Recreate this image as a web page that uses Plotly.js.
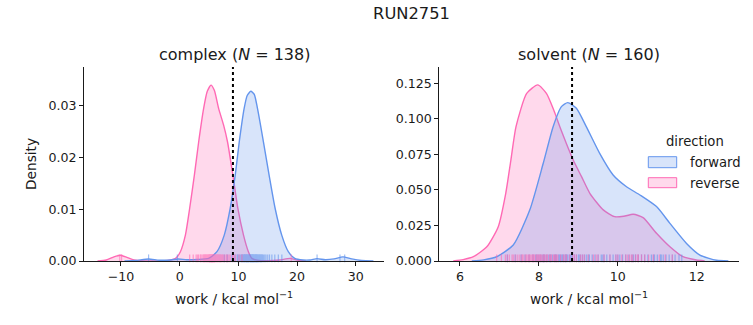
<!DOCTYPE html>
<html>
<head>
<meta charset="utf-8">
<script src="https://cdn.plot.ly/plotly-3.0.1.min.js"></script>
<style>html,body{margin:0;padding:0;background:#fff;}#chart{width:753px;height:325px;}</style>
</head>
<body>
<div id="chart"></div>
<script>
// ---------- DATA ----------
const suptitle = "RUN2751";
const panelTitles = ["complex (<i>N</i> = 138)", "solvent (<i>N</i> = 160)"];
const seriesNames = ["forward", "reverse"];
const legendTitle = "direction";
const xLabel = "work / kcal mol<sup>−1</sup>";
const yLabel = "Density";

// complex KDE curves
const cxForwardX = [-9.4,-7.5,-5.3,-3.5,-1.5,-0.3,1.2,3,4.93,6.35,7.59,8.61,9.46,10.14,10.98,11.5,12.12,12.7,13.25,14.27,15.23,16.25,17.38,18.5,19.6,21,22.2,23.4,24.8,26.3,27.8,29.3,31,33];
const cxForwardY = [0.00001,0.0001,0.0004,0.00015,0.0002,0.0004,0.00025,0.0003,0.0005,0.0018,0.005,0.0102,0.0166,0.0230,0.0295,0.0320,0.0328,0.0322,0.0295,0.0230,0.0166,0.0102,0.005,0.0018,0.0005,0.0002,0.0002,0.00045,0.00025,0.0004,0.0008,0.0004,0.0001,0.00001];
const cxReverseX = [-14,-12.5,-11.2,-10.1,-9,-7.8,-6,-4,-2,-0.7,0.12,0.97,1.7,2.5,3.23,4.08,4.7,5.33,5.9,6.63,7.47,8.15,9.06,9.9,10.87,11.7,12.3,13.5,15,17,18.8,20,21.5];
const cxReverseY = [0.00001,0.0002,0.0008,0.0011,0.0007,0.0002,0.00003,0.00002,0.0001,0.0005,0.0018,0.005,0.0102,0.0166,0.0230,0.0295,0.0328,0.0340,0.0330,0.0295,0.0263,0.0230,0.0166,0.0102,0.005,0.0018,0.0005,0.0001,0.00005,0.0002,0.0005,0.0002,0.00001];

// solvent KDE curves
const svForwardX = [6.3,6.6,6.93,7.35,7.77,8.11,8.36,8.57,8.73,8.95,9.2,9.54,9.88,10.22,10.56,10.98,11.32,11.74,12.08,12.5,12.8];
const svForwardY = [0,0.0008,0.003,0.0113,0.036,0.0688,0.0946,0.1087,0.1115,0.1075,0.0946,0.0758,0.0606,0.0523,0.0465,0.0383,0.0265,0.0124,0.0042,0.0005,0.0001];
const svReverseX = [5.83,6.08,6.34,6.68,6.97,7.16,7.29,7.42,7.69,7.97,8.19,8.38,8.53,8.87,9.08,9.29,9.63,9.92,10.15,10.39,10.64,10.98,11.32,11.65,11.99,12.2];
const svReverseY = [0.0001,0.001,0.003,0.010,0.0242,0.0477,0.0711,0.0946,0.118,0.124,0.118,0.106,0.0946,0.0711,0.0594,0.0477,0.036,0.0312,0.0315,0.0329,0.0305,0.0195,0.010,0.003,0.0007,0.0001];

// rug samples
const cxForwardSamples = [8.1,8.9,9.4,9.8,10.1,10.3,10.5,10.6,10.8,10.9,11.0,11.1,11.2,11.3,11.4,11.5,11.6,11.7,11.8,11.9,12.0,12.05,12.1,12.2,12.3,12.35,12.4,12.5,12.6,12.7,12.8,12.9,13.0,13.1,13.2,13.3,13.4,13.5,13.6,13.8,13.9,14.1,14.3,14.5,14.7,15.0,15.3,15.7,16.2,16.8,17.4,11.35,12.15,12.65,13.15,10.7,9.9,14.0,12.45,11.65,7.6,13.7,12.95,11.05,-5.3,-0.4,23.4,27.3,28.1];
const cxReverseSamples = [1.7,2.3,2.8,3.2,3.5,3.8,4.0,4.2,4.4,4.6,4.8,5.0,5.1,5.2,5.3,5.4,5.5,5.6,5.7,5.8,5.9,6.0,6.1,6.3,6.5,6.7,6.9,7.1,7.3,7.6,7.9,8.2,8.6,9.0,9.5,10.1,10.6,4.1,4.5,4.9,5.05,5.15,5.25,5.35,5.45,5.55,5.65,5.75,5.85,6.2,6.4,6.6,3.0,3.6,4.3,4.7,6.8,7.0,7.4,8.0,8.4,9.2,5.95,5.52,-10.2,-9.9,19.0];
const svForwardSamples = [7.2,7.4,7.55,7.65,7.75,7.85,7.95,8.0,8.05,8.1,8.15,8.2,8.25,8.3,8.35,8.4,8.45,8.5,8.55,8.6,8.63,8.67,8.7,8.73,8.77,8.8,8.85,8.9,8.95,9.0,9.05,9.1,9.15,9.2,9.28,9.35,9.42,9.5,9.58,9.65,9.72,9.8,9.88,9.95,10.05,10.12,10.2,10.28,10.36,10.45,10.52,10.6,10.68,10.76,10.85,10.93,11.0,11.08,11.15,11.22,11.3,11.38,11.45,11.55,11.62,8.52,8.68,8.82,8.42,9.25,9.62,10.4,10.9,8.28,8.12,7.92,9.02,8.58,11.1,10.0];
const svReverseSamples = [6.93,7.05,7.15,7.25,7.32,7.4,7.45,7.5,7.55,7.6,7.65,7.7,7.74,7.78,7.82,7.86,7.9,7.94,7.98,8.02,8.06,8.1,8.14,8.18,8.22,8.27,8.32,8.37,8.42,8.48,8.55,8.62,8.7,8.78,8.86,8.95,9.05,9.15,9.25,9.38,9.5,9.65,9.8,9.95,10.1,10.2,10.3,10.38,10.45,10.52,10.6,10.68,10.78,10.9,11.05,11.2,11.38,7.88,7.96,8.0,8.04,7.84,7.76,8.12,8.2,7.68,7.58,8.3,8.45,8.66,8.9,9.1,9.45,10.35,10.5,10.25,7.35,7.2,10.0,8.4];

// dotted reference lines (per panel)
const refLines = [9.07, 8.84];

// ticks
const cxXTicks = [-10, 0, 10, 20, 30];
const cxXTickText = ["−10", "0", "10", "20", "30"];
const cxYTicks = [0, 0.01, 0.02, 0.03];
const cxYTickText = ["0.00", "0.01", "0.02", "0.03"];
const svXTicks = [6, 8, 10, 12];
const svXTickText = ["6", "8", "10", "12"];
const svYTicks = [0, 0.025, 0.05, 0.075, 0.1, 0.125];
const svYTickText = ["0.000", "0.025", "0.050", "0.075", "0.100", "0.125"];

// ---------- STYLE ----------
const BLUE = "rgb(100,149,237)", BLUE_F = "rgba(100,149,237,0.25)";
const PINK = "rgb(255,105,180)", PINK_F = "rgba(255,105,180,0.25)";
const FONT = "DejaVu Sans, sans-serif";
const INK = "#1a1a1a";

function kde(x, y, xa, ya, line, fill, name) {
  return {type: "scatter", mode: "lines", x: x, y: y, xaxis: xa, yaxis: ya,
    line: {color: line, width: 1.4, shape: "spline", smoothing: 0.6},
    fill: "tozeroy", fillcolor: fill, name: name, showlegend: false, hoverinfo: "skip"};
}
function rug(s, xa, ya, color) {
  return {type: "scatter", mode: "markers", x: s, y: s.map(() => 0.014), xaxis: xa, yaxis: ya,
    marker: {symbol: "line-ns-open", size: 5.5, color: color, line: {color: color, width: 1.2}},
    opacity: 0.6, showlegend: false, hoverinfo: "skip", cliponaxis: false};
}

const traces = [
  kde(cxReverseX, cxReverseY, "x", "y", PINK, PINK_F, seriesNames[1]),
  kde(cxForwardX, cxForwardY, "x", "y", BLUE, BLUE_F, seriesNames[0]),
  kde(svReverseX, svReverseY, "x2", "y2", PINK, PINK_F, seriesNames[1]),
  kde(svForwardX, svForwardY, "x2", "y2", BLUE, BLUE_F, seriesNames[0]),
  rug(cxForwardSamples, "x", "y3", BLUE),
  rug(cxReverseSamples, "x", "y3", PINK),
  rug(svForwardSamples, "x2", "y4", BLUE),
  rug(svReverseSamples, "x2", "y4", PINK)
];

const axBase = {showline: true, linecolor: INK, linewidth: 1, ticks: "outside", ticklen: 4, tickwidth: 1,
  tickcolor: INK, showgrid: false, zeroline: false, tickfont: {family: FONT, size: 12.6, color: INK}, fixedrange: true};

const L = 84, R = 739, T = 67, B = 261;
const W = R - L, H = B - T;
const px = v => (v - L) / W, py = v => (B - v) / H;

const layout = {
  width: 753, height: 325, paper_bgcolor: "#fff", plot_bgcolor: "rgba(0,0,0,0)",
  margin: {l: L, r: 753 - R, t: T, b: 325 - B, pad: 0},
  showlegend: false,
  font: {family: FONT, color: INK},
  title: {text: suptitle, font: {family: FONT, size: 16.3, color: INK}, x: 376.5 / 753, xanchor: "center", y: 1 - 13 / 325, yanchor: "middle", xref: "paper"},
  xaxis: Object.assign({}, axBase, {domain: [0, px(384)], range: [-16.3, 34.8], tickvals: cxXTicks, ticktext: cxXTickText, anchor: "y"}),
  yaxis: Object.assign({}, axBase, {domain: [0, 1], range: [0, 0.0375], tickvals: cxYTicks, ticktext: cxYTickText, anchor: "x"}),
  xaxis2: Object.assign({}, axBase, {domain: [px(439.3), 1], range: [5.476, 13.07], tickvals: svXTicks, ticktext: svXTickText, anchor: "y2"}),
  yaxis2: Object.assign({}, axBase, {domain: [0, 1], range: [0, 0.1366], tickvals: svYTicks, ticktext: svYTickText, anchor: "x2"}),
  yaxis3: {overlaying: "y", range: [0, 1], visible: false, fixedrange: true, anchor: "x"},
  yaxis4: {overlaying: "y2", range: [0, 1], visible: false, fixedrange: true, anchor: "x2"},
  shapes: [
    {type: "line", xref: "x", yref: "paper", x0: refLines[0], x1: refLines[0], y0: 0, y1: 1, line: {color: "#000", width: 2, dash: "dot"}},
    {type: "line", xref: "x2", yref: "paper", x0: refLines[1], x1: refLines[1], y0: 0, y1: 1, line: {color: "#000", width: 2, dash: "dot"}},
    {type: "rect", xref: "paper", yref: "paper", x0: px(648.3), x1: px(676.7), y0: py(167.7), y1: py(156.7), fillcolor: BLUE_F, line: {color: BLUE, width: 1}},
    {type: "rect", xref: "paper", yref: "paper", x0: px(648.3), x1: px(676.7), y0: py(187.7), y1: py(177.7), fillcolor: PINK_F, line: {color: PINK, width: 1}}
  ],
  annotations: [
    {text: panelTitles[0], xref: "paper", yref: "paper", x: px(234), y: py(54), xanchor: "center", yanchor: "middle", showarrow: false, font: {family: FONT, size: 16, color: INK}},
    {text: panelTitles[1], xref: "paper", yref: "paper", x: px(589.3), y: py(54), xanchor: "center", yanchor: "middle", showarrow: false, font: {family: FONT, size: 16, color: INK}},
    {text: xLabel, xref: "paper", yref: "paper", x: px(234), y: py(298), xanchor: "center", yanchor: "middle", showarrow: false, font: {family: FONT, size: 13.7, color: INK}},
    {text: xLabel, xref: "paper", yref: "paper", x: px(589.3), y: py(298), xanchor: "center", yanchor: "middle", showarrow: false, font: {family: FONT, size: 13.7, color: INK}},
    {text: yLabel, xref: "paper", yref: "paper", x: px(31), y: 0.5, xanchor: "center", yanchor: "middle", textangle: -90, showarrow: false, font: {family: FONT, size: 13.7, color: INK}},
    {text: legendTitle, xref: "paper", yref: "paper", x: px(695), y: py(141), xanchor: "center", yanchor: "middle", showarrow: false, font: {family: FONT, size: 13.2, color: INK}},
    {text: seriesNames[0], xref: "paper", yref: "paper", x: px(688.3), y: py(162), xanchor: "left", yanchor: "middle", showarrow: false, font: {family: FONT, size: 13.2, color: INK}},
    {text: seriesNames[1], xref: "paper", yref: "paper", x: px(688.3), y: py(183), xanchor: "left", yanchor: "middle", showarrow: false, font: {family: FONT, size: 13.2, color: INK}}
  ]
};

Plotly.newPlot("chart", traces, layout, {staticPlot: true, displayModeBar: false});
</script>
</body>
</html>
